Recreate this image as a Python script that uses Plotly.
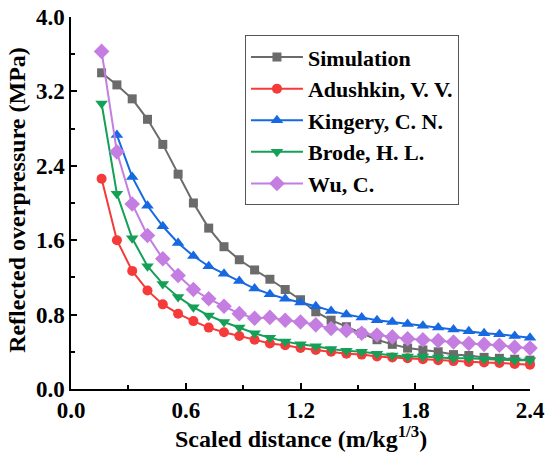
import plotly.graph_objects as go

# scaled distance, 0.16 .. 2.40 step 0.08
x_vals = [0.16, 0.24, 0.32, 0.40, 0.48, 0.56, 0.64, 0.72, 0.80, 0.88,
          0.96, 1.04, 1.12, 1.20, 1.28, 1.36, 1.44, 1.52, 1.60, 1.68,
          1.76, 1.84, 1.92, 2.00, 2.08, 2.16, 2.24, 2.32, 2.40]

simulation = [3.40, 3.27, 3.12, 2.90, 2.63, 2.31, 2.00, 1.73, 1.53, 1.39,
              1.28, 1.18, 1.07, 0.96, 0.83, 0.74, 0.67, 0.60, 0.53, 0.48,
              0.44, 0.42, 0.40, 0.37, 0.36, 0.34, 0.33, 0.32, 0.31]

adushkin = [2.26, 1.60, 1.27, 1.06, 0.91, 0.81, 0.73, 0.66, 0.61, 0.57,
            0.53, 0.49, 0.47, 0.44, 0.42, 0.40, 0.38, 0.37, 0.35, 0.34,
            0.33, 0.32, 0.31, 0.30, 0.29, 0.285, 0.28, 0.27, 0.26]

# Kingery starts at 0.24
kingery_x = x_vals[1:]
kingery = [2.73, 2.28, 1.97, 1.75, 1.57, 1.43, 1.32, 1.24, 1.16,
           1.08, 1.02, 0.97, 0.93, 0.89, 0.84, 0.80, 0.77, 0.74, 0.72,
           0.70, 0.68, 0.66, 0.64, 0.62, 0.60, 0.59, 0.57, 0.55]

brode = [3.07, 2.10, 1.62, 1.32, 1.13, 0.99, 0.88, 0.79, 0.72, 0.66,
         0.60, 0.55, 0.51, 0.48, 0.46, 0.43, 0.41, 0.40, 0.38, 0.36,
         0.35, 0.35, 0.34, 0.33, 0.33, 0.32, 0.315, 0.31, 0.31]

wu = [3.63, 2.55, 1.99, 1.65, 1.40, 1.22, 1.07, 0.97, 0.89, 0.81,
      0.76, 0.77, 0.74, 0.72, 0.69, 0.65, 0.63, 0.60, 0.58, 0.56,
      0.54, 0.53, 0.52, 0.505, 0.49, 0.48, 0.47, 0.45, 0.44]

x_ticks = [0.0, 0.6, 1.2, 1.8, 2.4]
y_ticks = [0.0, 0.8, 1.6, 2.4, 3.2, 4.0]

x_title = '<b>Scaled distance (m/kg<sup>1/3</sup>)</b>'
y_title = '<b>Reflected overpressure (MPa)</b>'

serif = 'Times New Roman'

series = [
    ('Simulation', x_vals, simulation, '#6b6b6b', 'square', 9),
    ('Adushkin, V. V.', x_vals, adushkin, '#f53a3a', 'circle', 10),
    ('Kingery, C. N.', kingery_x, kingery, '#1669e0', 'triangle-up', 11),
    ('Brode, H. L.', x_vals, brode, '#15a058', 'triangle-down', 11),
    ('Wu, C.', x_vals, wu, '#c47de0', 'diamond', 12),
]

fig = go.Figure()
for name, xs, ys, col, sym, sz in series:
    fig.add_trace(go.Scatter(x=xs, y=ys, name='<b>%s</b>' % name, mode='lines+markers',
                             line=dict(color=col, width=2),
                             marker=dict(symbol=sym, size=sz, color=col),
                             cliponaxis=False))

axis_font = dict(family=serif, size=24, color='black')
tick_font = dict(family=serif, size=23, color='black')

fig.update_layout(
    width=550, height=458,
    font=dict(family=serif, color='black'),
    margin=dict(l=71, r=20, t=17, b=69),
    plot_bgcolor='white', paper_bgcolor='white',
    showlegend=True,
    legend=dict(x=0.379, y=0.951, xanchor='left', yanchor='top',
                bordercolor='#555555', borderwidth=1, bgcolor='white',
                font=dict(family=serif, size=22, color='black'),
                tracegroupgap=0, itemwidth=52),
)

# axis titles as annotations so they sit where the reference has them
fig.add_annotation(text=x_title, xref='paper', yref='paper', x=0.5, y=-0.128,
                   xanchor='center', yanchor='middle', showarrow=False, font=axis_font)
fig.add_annotation(text=y_title, xref='paper', yref='paper', x=-0.118, y=0.508,
                   xanchor='center', yanchor='middle', showarrow=False, textangle=-90,
                   font=axis_font)

fig.update_xaxes(range=[0, 2.4], tickvals=x_ticks, ticktext=['<b>%.1f</b>' % v for v in x_ticks],
                 ticks='inside', ticklen=6, tickwidth=1.5, tickcolor='black',
                 minor=dict(dtick=0.3, ticks='inside', ticklen=4, tickcolor='black', tickwidth=1.5),
                 showline=True, linecolor='black', linewidth=1.5, showgrid=False, zeroline=False,
                 tickfont=tick_font, automargin=False)
fig.update_yaxes(range=[0, 4.0], tickvals=y_ticks, ticktext=['<b>%.1f</b>' % v for v in y_ticks],
                 ticks='inside', ticklen=6, tickwidth=1.5, tickcolor='black',
                 minor=dict(dtick=0.4, ticks='inside', ticklen=4, tickcolor='black', tickwidth=1.5),
                 showline=True, linecolor='black', linewidth=1.5, showgrid=False, zeroline=False,
                 tickfont=tick_font, automargin=False)

# drop the page's default body margin so the figure starts at the window corner
fig.write_html('out.html', config={'displayModeBar': False},
               post_script="document.body.style.margin='0';")
